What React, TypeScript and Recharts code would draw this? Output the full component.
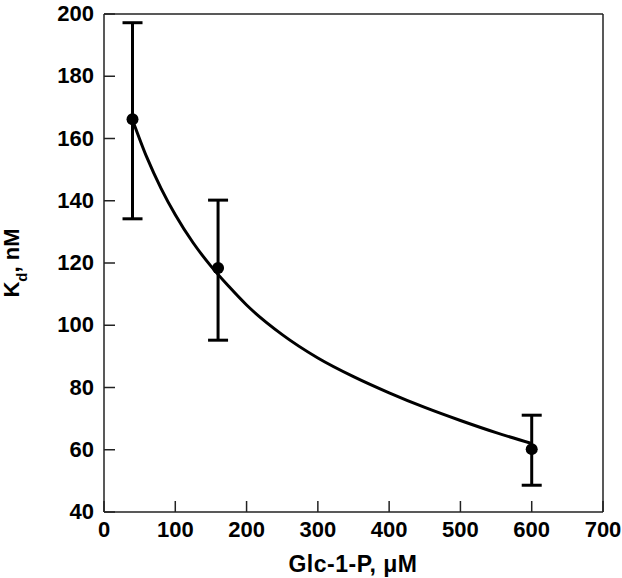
import React from "react";
import {
  ComposedChart,
  Line,
  Scatter,
  ErrorBar,
  XAxis,
  YAxis,
  ReferenceLine,
} from "recharts";

// measured points (Glc-1-P in µM, Kd in nM)
const conc = [40, 160, 600];
const kd = [166.2, 118.4, 60.2];
const errLow = [32, 23.2, 11.6];
const errHigh = [31, 21.8, 10.9];

// fitted curve
const fitConc = [40, 60, 80, 100, 125, 150, 175, 200, 250, 300, 350, 400, 450, 500, 550, 600];
const fitKd = [166, 154, 144, 135.5, 126.5, 119, 112.5, 106.5, 97, 89.5, 83.5, 78.3, 73.6, 69.4, 65.5, 62];

const xTicks = [0, 100, 200, 300, 400, 500, 600, 700];
const yTicks = [40, 60, 80, 100, 120, 140, 160, 180, 200];

const W = 622;
const H = 578;
const PLOT_LEFT = 104;
const PLOT_BOTTOM = 512;
const FONT = "'Liberation Sans', Arial, Helvetica, sans-serif";
const INK = "#000";
const AXIS = "#222";

const points = conc.map((x, i) => ({ x, y: kd[i], err: [errLow[i], errHigh[i]] }));
const fit = fitConc.map((x, i) => ({ x, fit: fitKd[i] }));

function XTick(props: any) {
  const { x, payload } = props;
  return (
    <g>
      <line x1={x} x2={x} y1={PLOT_BOTTOM} y2={PLOT_BOTTOM - 11} stroke={AXIS} strokeWidth={1.5} />
      <text
        x={x}
        y={PLOT_BOTTOM + 25}
        textAnchor="middle"
        fontFamily={FONT}
        fontWeight="bold"
        fontSize={22}
        fill={INK}
      >
        {payload.value}
      </text>
    </g>
  );
}

function YTick(props: any) {
  const { y, payload } = props;
  return (
    <g>
      <line x1={PLOT_LEFT} x2={PLOT_LEFT + 11} y1={y} y2={y} stroke={AXIS} strokeWidth={1.5} />
      <text
        x={PLOT_LEFT - 10}
        y={y + 7}
        textAnchor="end"
        fontFamily={FONT}
        fontWeight="bold"
        fontSize={22}
        fill={INK}
      >
        {payload.value}
      </text>
    </g>
  );
}

function YLabel() {
  return (
    <text
      transform="translate(19, 263) rotate(-90)"
      textAnchor="middle"
      fontFamily={FONT}
      fontWeight="bold"
      fontSize={22}
      fill={INK}
    >
      <tspan>K</tspan>
      <tspan fontSize={15} dy={8}>d</tspan>
      <tspan dy={-8}>, nM</tspan>
    </text>
  );
}

function XLabel() {
  return (
    <text
      x={353}
      y={572}
      textAnchor="middle"
      fontFamily={FONT}
      fontWeight="bold"
      fontSize={23}
      letterSpacing={0.5}
      fill={INK}
    >
      Glc-1-P, μM
    </text>
  );
}

export default function App() {
  return (
    <div style={{ position: "absolute", left: 0, top: 0, width: W, height: H, background: "#fff" }}>
      <ComposedChart
        width={W}
        height={H}
        margin={{ top: 14, right: 19, left: 0, bottom: 0 }}
      >
        <XAxis
          type="number"
          dataKey="x"
          domain={[0, 700]}
          ticks={xTicks}
          tick={<XTick />}
          tickLine={false}
          axisLine={{ stroke: AXIS, strokeWidth: 1.5 }}
          height={66}
          allowDataOverflow
          label={<XLabel />}
        />
        <YAxis
          type="number"
          domain={[40, 200]}
          ticks={yTicks}
          tick={<YTick />}
          tickLine={false}
          axisLine={{ stroke: AXIS, strokeWidth: 1.5 }}
          width={104}
          allowDataOverflow
          label={<YLabel />}
        />
        <ReferenceLine y={200} stroke={AXIS} strokeWidth={1.5} />
        <ReferenceLine x={700} stroke={AXIS} strokeWidth={1.5} />
        <Line
          data={fit}
          dataKey="fit"
          type="monotone"
          stroke={INK}
          strokeWidth={3}
          dot={false}
          isAnimationActive={false}
        />
        <Scatter
          data={points}
          dataKey="y"
          fill={INK}
          isAnimationActive={false}
          shape={(p: any) => <circle cx={p.cx} cy={p.cy} r={6} fill={INK} />}
        >
          <ErrorBar dataKey="err" direction="y" width={10} strokeWidth={3} stroke={INK} />
        </Scatter>
      </ComposedChart>
    </div>
  );
}
